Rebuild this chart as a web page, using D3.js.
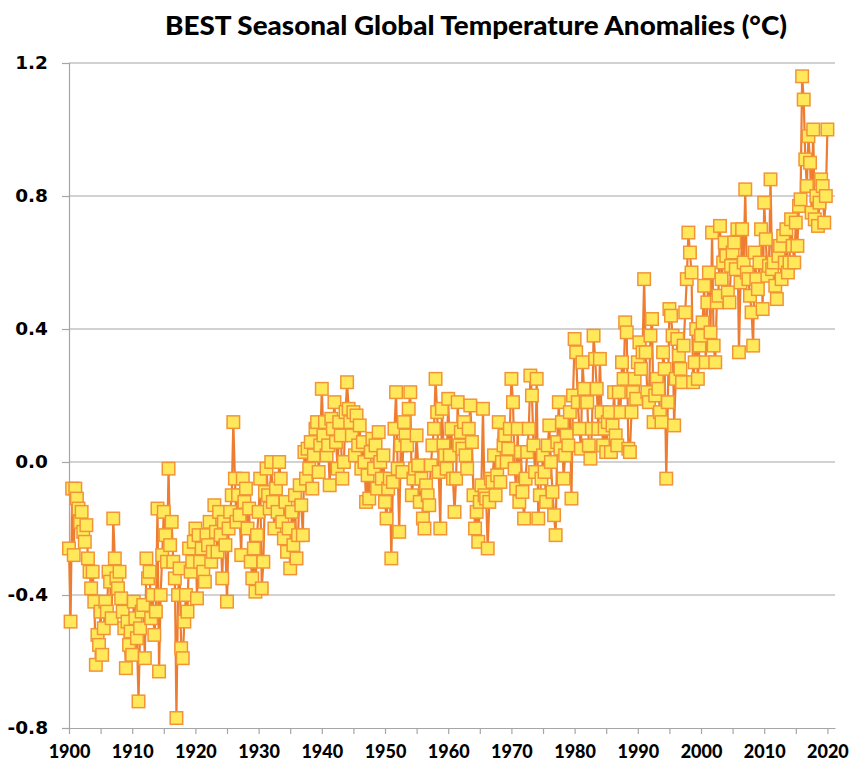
<!DOCTYPE html>
<html>
<head>
<meta charset="utf-8">
<script src="https://cdn.jsdelivr.net/npm/d3@7"></script>
<style>
  html, body { margin: 0; padding: 0; background: #ffffff; }
  svg { display: block; }
</style>
</head>
<body>
<svg id="chart" width="851" height="764"></svg>
<script>
// ---------------- DATA ----------------
const chartTitle = "BEST Seasonal Global Temperature Anomalies (°C)";
const startYear = 1900;
const seasonsPerYear = 4;

// Seasonal anomalies (°C), four per year from 1900
const seasonalAnomalies = [
  -0.26, -0.48, -0.08, -0.28,  // 1900
  -0.08, -0.11, -0.14, -0.18,  // 1901
  -0.15, -0.21, -0.24, -0.19,  // 1902
  -0.29, -0.33, -0.38, -0.33,  // 1903
  -0.42, -0.61, -0.52, -0.55,  // 1904
  -0.45, -0.58, -0.50, -0.42,  // 1905
  -0.45, -0.33, -0.36, -0.47,  // 1906
  -0.17, -0.29, -0.35, -0.38,  // 1907
  -0.33, -0.41, -0.45, -0.50,  // 1908
  -0.62, -0.48, -0.55, -0.51,  // 1909
  -0.58, -0.42, -0.47, -0.53,  // 1910
  -0.72, -0.50, -0.45, -0.43,  // 1911
  -0.59, -0.29, -0.35, -0.33,  // 1912
  -0.47, -0.40, -0.52, -0.45,  // 1913
  -0.14, -0.63, -0.40, -0.28,  // 1914
  -0.15, -0.22, -0.30, -0.02,  // 1915
  -0.25, -0.18, -0.30, -0.35,  // 1916
  -0.77, -0.40, -0.32, -0.56,  // 1917
  -0.59, -0.48, -0.40, -0.45,  // 1918
  -0.26, -0.33, -0.30, -0.24,  // 1919
  -0.20, -0.41, -0.22, -0.30,  // 1920
  -0.26, -0.33, -0.36, -0.22,  // 1921
  -0.25, -0.18, -0.30, -0.27,  // 1922
  -0.13, -0.21, -0.27, -0.15,  // 1923
  -0.22, -0.35, -0.18, -0.25,  // 1924
  -0.42, -0.20, -0.15, -0.10,  // 1925
   0.12, -0.05, -0.18, -0.10,  // 1926
  -0.16, -0.28, -0.05, -0.12,  // 1927
  -0.08, -0.20, -0.14, -0.30,  // 1928
  -0.35, -0.26, -0.39, -0.22,  // 1929
  -0.15, -0.05, -0.38, -0.30,  // 1930
  -0.09, -0.02, -0.10, -0.14,  // 1931
   0.00, -0.12, -0.20, -0.08,  // 1932
  -0.15,  0.00, -0.05, -0.18,  // 1933
  -0.23, -0.12, -0.27, -0.20,  // 1934
  -0.32, -0.15, -0.25, -0.10,  // 1935
  -0.29, -0.22, -0.07, -0.13,  // 1936
  -0.22,  0.03, -0.05,  0.04,  // 1937
  -0.02,  0.06, -0.08,  0.02,  // 1938
   0.10,  0.12, -0.03,  0.05,  // 1939
   0.22,  0.08,  0.12,  0.02,  // 1940
   0.05, -0.07,  0.13,  0.10,  // 1941
   0.18,  0.06, -0.02,  0.12,  // 1942
   0.08, -0.05,  0.00,  0.15,  // 1943
   0.24,  0.16,  0.12,  0.08,  // 1944
   0.15,  0.02,  0.14,  0.05,  // 1945
   0.11, -0.02,  0.06,  0.00,  // 1946
  -0.12, -0.04, -0.11,  0.03,  // 1947
   0.07, -0.02,  0.05, -0.08,  // 1948
   0.09,  0.00, -0.05,  0.02,  // 1949
  -0.12, -0.17, -0.08, -0.05,  // 1950
  -0.29, -0.06,  0.10,  0.21,  // 1951
  -0.02, -0.21,  0.05, -0.03,  // 1952
   0.12,  0.08,  0.05,  0.16,  // 1953
   0.21, -0.10, -0.05, -0.02,  // 1954
   0.08, -0.01, -0.12, -0.05,  // 1955
  -0.17, -0.20, -0.07, -0.10,  // 1956
  -0.13, -0.01,  0.05,  0.10,  // 1957
   0.25,  0.15, -0.03, -0.20,  // 1958
   0.16,  0.05,  0.02, -0.02,  // 1959
   0.19,  0.02,  0.10, -0.05,  // 1960
  -0.15, -0.05,  0.18,  0.05,  // 1961
   0.09,  0.04,  0.12,  0.02,  // 1962
  -0.02,  0.10,  0.17,  0.06,  // 1963
  -0.10, -0.20, -0.15, -0.24,  // 1964
  -0.12, -0.07,  0.16, -0.10,  // 1965
  -0.11, -0.26, -0.12, -0.05,  // 1966
  -0.06,  0.02, -0.10, -0.04,  // 1967
   0.12, -0.06,  0.00,  0.05,  // 1968
   0.08,  0.00,  0.04,  0.10,  // 1969
   0.25,  0.18, -0.02, -0.08,  // 1970
   0.10, -0.12,  0.03, -0.09,  // 1971
  -0.17, -0.05,  0.03,  0.10,  // 1972
   0.26,  0.20,  0.05, -0.03,  // 1973
   0.25, -0.17, -0.10, -0.05,  // 1974
   0.02, -0.03, -0.12,  0.05,  // 1975
   0.11,  0.00, -0.09, -0.16,  // 1976
  -0.22,  0.06,  0.18,  0.04,  // 1977
   0.12, -0.05,  0.02,  0.08,  // 1978
   0.05,  0.15, -0.11,  0.20,  // 1979
   0.37,  0.33,  0.18,  0.10,  // 1980
   0.04,  0.30,  0.22,  0.18,  // 1981
   0.18,  0.05,  0.01,  0.10,  // 1982
   0.38,  0.31,  0.22,  0.10,  // 1983
   0.31,  0.15,  0.05,  0.10,  // 1984
   0.03,  0.12,  0.15,  0.03,  // 1985
   0.11,  0.21,  0.08,  0.05,  // 1986
   0.21,  0.15,  0.30,  0.25,  // 1987
   0.42,  0.39,  0.04,  0.03,  // 1988
   0.15,  0.21,  0.25,  0.19,  // 1989
   0.30,  0.36,  0.28,  0.33,  // 1990
   0.55,  0.33,  0.21,  0.18,  // 1991
   0.38,  0.43,  0.12,  0.20,  // 1992
   0.25,  0.22,  0.15,  0.12,  // 1993
   0.33,  0.28, -0.05,  0.18,  // 1994
   0.46,  0.44,  0.38,  0.11,  // 1995
   0.25,  0.37,  0.32,  0.28,  // 1996
   0.24,  0.35,  0.45,  0.55,  // 1997
   0.69,  0.63,  0.57,  0.24,  // 1998
   0.30,  0.40,  0.25,  0.35,  // 1999
   0.38,  0.42,  0.53,  0.30,  // 2000
   0.48,  0.57,  0.39,  0.69,  // 2001
   0.35,  0.30,  0.48,  0.50,  // 2002
   0.71,  0.55,  0.60,  0.66,  // 2003
   0.62,  0.51,  0.48,  0.59,  // 2004
   0.63,  0.66,  0.58,  0.70,  // 2005
   0.33,  0.54,  0.70,  0.60,  // 2006
   0.82,  0.57,  0.55,  0.50,  // 2007
   0.45,  0.35,  0.63,  0.55,  // 2008
   0.52,  0.60,  0.70,  0.46,  // 2009
   0.78,  0.67,  0.56,  0.59,  // 2010
   0.85,  0.58,  0.60,  0.53,  // 2011
   0.49,  0.62,  0.65,  0.55,  // 2012
   0.68,  0.60,  0.70,  0.57,  // 2013
   0.60,  0.73,  0.65,  0.60,  // 2014
   0.72,  0.65,  0.77,  0.79,  // 2015
   1.16,  1.09,  0.91,  0.83,  // 2016
   0.98,  0.90,  0.75,  1.00,  // 2017
   0.73,  0.80,  0.71,  0.78,  // 2018
   0.85,  0.83,  0.72,  0.80,  // 2019
   1.00                         // 2020
];

const yTickValues = [-0.8, -0.4, 0.0, 0.4, 0.8, 1.2];
const xLabelYears = [1900, 1910, 1920, 1930, 1940, 1950, 1960, 1970, 1980, 1990, 2000, 2010, 2020];
const xTickYears = [1900, 1905, 1910, 1915, 1920, 1925, 1930, 1935, 1940, 1945, 1950, 1955, 1960,
                    1965, 1970, 1975, 1980, 1985, 1990, 1995, 2000, 2005, 2010, 2015, 2020];

// ---------------- LAYOUT ----------------
const svg = d3.select("#chart");
const plotLeft = 69, plotRight = 835, plotTop = 63, plotBottom = 728;

const x = d3.scaleLinear().domain([1900, 2021.2]).range([plotLeft, plotRight]);
const y = d3.scaleLinear().domain([-0.8, 1.2]).range([plotBottom, plotTop]);

const gridColor = "#A6A6A6";

// Title
svg.append("text")
  .attr("x", 476).attr("y", 35)
  .attr("text-anchor", "middle")
  .attr("font-family", "Lato, 'Open Sans', sans-serif")
  .attr("font-weight", 900)
  .attr("font-size", 27)
  .attr("textLength", 622)
  .attr("lengthAdjust", "spacingAndGlyphs")
  .attr("fill", "#000")
  .text(chartTitle);

// Horizontal gridlines
svg.append("g")
  .selectAll("line")
  .data(yTickValues.filter(v => v !== -0.8))
  .join("line")
  .attr("x1", plotLeft).attr("x2", plotRight)
  .attr("y1", d => y(d)).attr("y2", d => y(d))
  .attr("stroke", gridColor).attr("stroke-width", 1.2);

// Left axis
const yAxis = d3.axisLeft(y)
  .tickValues(yTickValues)
  .tickSize(7)
  .tickPadding(14)
  .tickFormat(d => d.toFixed(1));
const gy = svg.append("g").attr("transform", `translate(${plotLeft},0)`).call(yAxis);
gy.select(".domain").attr("stroke", gridColor).attr("stroke-width", 1.2);
gy.selectAll(".tick line").attr("stroke", gridColor).attr("stroke-width", 1.2);
gy.selectAll(".tick text")
  .attr("font-family", "'DejaVu Sans', Verdana, sans-serif")
  .attr("font-weight", "bold")
  .attr("font-size", 18.5)
  .attr("fill", "#000");

// Bottom axis
const xAxis = d3.axisBottom(x)
  .tickValues(xTickYears)
  .tickSize(6)
  .tickSizeOuter(0)
  .tickPadding(11)
  .tickFormat(d => xLabelYears.includes(d) ? String(d) : "");
const gx = svg.append("g").attr("transform", `translate(0,${plotBottom})`).call(xAxis);
gx.select(".domain").attr("stroke", gridColor).attr("stroke-width", 1.2);
gx.selectAll(".tick line").attr("stroke", gridColor).attr("stroke-width", 1.2);
gx.selectAll(".tick text")
  .attr("font-family", "Lato, 'Open Sans', sans-serif")
  .attr("font-weight", 900)
  .attr("font-size", 18)
  .attr("fill", "#000");

// Series
const points = seasonalAnomalies.map((v, i) => ({ t: startYear + i / seasonsPerYear, v }));

const line = d3.line().x(d => x(d.t)).y(d => y(d.v));
svg.append("path")
  .datum(points)
  .attr("d", line)
  .attr("fill", "none")
  .attr("stroke", "#EE7D31")
  .attr("stroke-width", 2.2)
  .attr("stroke-linejoin", "round");

const size = 12.5;
svg.append("g")
  .selectAll("rect")
  .data(points)
  .join("rect")
  .attr("x", d => x(d.t) - size / 2)
  .attr("y", d => y(d.v) - size / 2)
  .attr("width", size).attr("height", size)
  .attr("fill", "#FFE95B")
  .attr("stroke", "#F29436")
  .attr("stroke-width", 1.5);
</script>
</body>
</html>
